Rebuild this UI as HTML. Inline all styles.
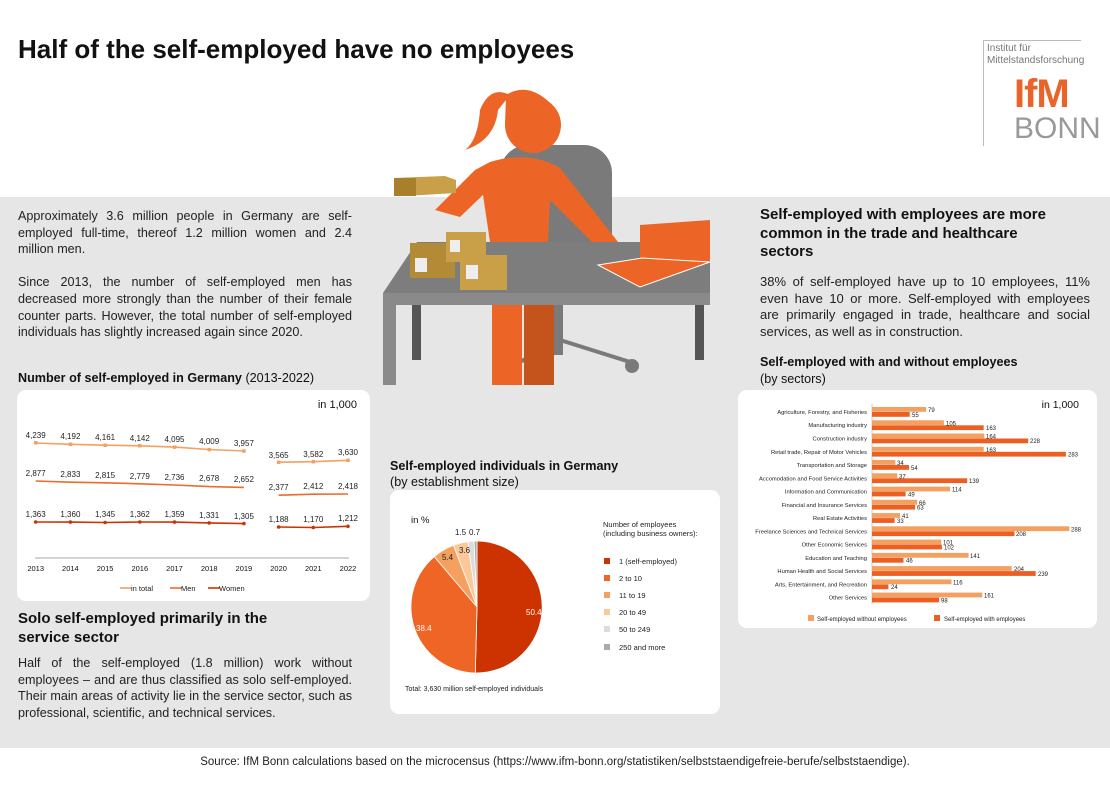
<!DOCTYPE html>
<html><head><meta charset="utf-8"><style>
*{margin:0;padding:0;box-sizing:border-box}
body{width:1110px;height:785px;position:relative;background:#fff;font-family:"Liberation Sans",Arial,sans-serif;color:#111;overflow:hidden}
.band{position:absolute;left:0;top:197px;width:1110px;height:551px;background:#e6e6e6}
.abs{position:absolute}
.p{font-size:12.6px;line-height:16.6px;text-align:justify;color:#222}
.h{font-weight:bold;font-size:15px;line-height:18.5px}
.card{position:absolute;background:#fff;border-radius:9px}
</style></head><body>
<div class="band"></div>
<div class="abs" style="left:18px;top:34px;font-size:26px;font-weight:bold">Half of the self-employed have no employees</div>

<!-- logo -->
<div class="abs" style="left:983px;top:40px;width:98px;height:106px;border-left:1px solid #bbb;border-top:1px solid #bbb"></div>
<div class="abs" style="left:987px;top:43px;font-size:10px;line-height:11.5px;color:#777">Institut für<br>Mittelstandsforschung</div>
<div class="abs" style="left:1014px;top:72px;font-size:40px;font-weight:bold;color:#e8642a;letter-spacing:-1px">IfM</div>
<div class="abs" style="left:1014px;top:112px;font-size:30px;color:#999">BONN</div>

<!-- illustration -->
<svg class="abs" style="left:0;top:0" width="1110" height="400">
<rect x="500" y="145" width="112" height="120" rx="28" fill="#7a7a7a"/>
<line x1="560" y1="340" x2="520" y2="362" stroke="#7a7a7a" stroke-width="4"/>
<line x1="560" y1="340" x2="630" y2="362" stroke="#7a7a7a" stroke-width="4"/>
<circle cx="632" cy="366" r="7" fill="#7a7a7a"/>
<rect x="553" y="305" width="10" height="50" fill="#7a7a7a"/>
<path d="M490 162 Q530 150 560 168 L640 270 L630 280 L550 200 L548 242 L490 242 L483 195 L460 217 L435 210 L475 170 Z" fill="#ec6526"/>
<circle cx="533" cy="125" r="28" fill="#ec6526"/>
<path d="M510 95 Q490 85 480 110 Q478 140 465 150 Q495 140 498 110 Z" fill="#ec6526"/>
<path d="M506 95 Q530 80 555 108 L548 115 Q530 100 505 125 Z" fill="#ec6526"/>
<rect x="492" y="300" width="30" height="85" fill="#ec6526"/>
<rect x="524" y="300" width="30" height="85" fill="#c4541c"/>
<polygon points="417,242 710,242 710,293 383,293" fill="#7d7d7d"/>
<rect x="383" y="293" width="327" height="12" fill="#8a8a8a"/>
<rect x="383" y="305" width="13" height="80" fill="#8a8a8a"/>
<rect x="412" y="305" width="9" height="55" fill="#555"/>
<rect x="695" y="305" width="9" height="55" fill="#555"/>
<polygon points="640,225 710,220 710,262 640,262" fill="#ec6526"/>
<polygon points="598,265 642,258 710,262 640,287" fill="#ec6526" stroke="#fff" stroke-width="1"/>
<polygon points="394,178 445,176 456,180 456,193 405,196 394,192" fill="#c9a047"/>
<rect x="394" y="178" width="22" height="18" fill="#a8802c"/>
<rect x="410" y="243" width="45" height="35" fill="#b38a36"/>
<rect x="446" y="232" width="40" height="30" fill="#c9a047"/>
<rect x="460" y="255" width="47" height="35" fill="#c9a047"/>
<rect x="415" y="258" width="12" height="14" fill="#eee"/>
<rect x="466" y="265" width="12" height="14" fill="#eee"/>
<rect x="450" y="240" width="10" height="12" fill="#eee"/>
</svg>

<div class="abs p" style="left:18px;top:208px;width:334px">Approximately 3.6 million people in Germany are self-employed full-time, thereof 1.2 million women and 2.4 million men.<br><br>Since 2013, the number of self-employed men has decreased more strongly than the number of their female counter parts. However, the total number of self-employed individuals has slightly increased again since 2020.</div>
<div class="abs" style="left:18px;top:371px;font-size:12.6px"><b>Number of self-employed in Germany</b> (2013-2022)</div>

<div class="card" style="left:17px;top:390px;width:353px;height:211px"></div>
<svg class="abs" style="left:0;top:0" width="380" height="610" font-family="Liberation Sans, Arial, sans-serif">
<text x="357" y="408" font-size="11" text-anchor="end" fill="#111">in 1,000</text>
<line x1="35" y1="558" x2="349" y2="558" stroke="#aaa"/>
<g font-size="7.5" fill="#111" text-anchor="middle">
<text x="35.7" y="571">2013</text><text x="70.4" y="571">2014</text><text x="105.1" y="571">2015</text><text x="139.8" y="571">2016</text><text x="174.5" y="571">2017</text><text x="209.2" y="571">2018</text><text x="243.9" y="571">2019</text><text x="278.6" y="571">2020</text><text x="313.3" y="571">2021</text><text x="348" y="571">2022</text>
</g>
<g fill="none" stroke-width="1.6">
<polyline stroke="#f4a060" points="35.7,443 70.4,444.3 105.1,445.2 139.8,445.8 174.5,447.1 209.2,449.5 243.9,451"/>
<polyline stroke="#f4a060" points="278.6,462.2 313.3,461.7 348,460.3"/>
<polyline stroke="#ee6a2a" points="35.7,481 70.4,482.2 105.1,482.8 139.8,483.8 174.5,485 209.2,486.6 243.9,487.4"/>
<polyline stroke="#ee6a2a" points="278.6,495.2 313.3,494.2 348,494"/>
<polyline stroke="#cc3300" points="35.7,522 70.4,522.1 105.1,522.5 139.8,522 174.5,522.1 209.2,522.9 243.9,523.6"/>
<polyline stroke="#cc3300" points="278.6,527 313.3,527.5 348,526.3"/>
</g>
<g fill="#f4a060">
<rect x="34" y="441" width="3.5" height="3.5"/><rect x="68.7" y="442.5" width="3.5" height="3.5"/><rect x="103.4" y="443.5" width="3.5" height="3.5"/><rect x="138" y="444" width="3.5" height="3.5"/><rect x="172.8" y="445.4" width="3.5" height="3.5"/><rect x="207.5" y="447.8" width="3.5" height="3.5"/><rect x="242.2" y="449.3" width="3.5" height="3.5"/><rect x="276.9" y="460.5" width="3.5" height="3.5"/><rect x="311.6" y="460" width="3.5" height="3.5"/><rect x="346.3" y="458.6" width="3.5" height="3.5"/>
</g>
<g fill="#cc3300">
<circle cx="35.7" cy="522" r="1.8"/><circle cx="70.4" cy="522.1" r="1.8"/><circle cx="105.1" cy="522.5" r="1.8"/><circle cx="139.8" cy="522" r="1.8"/><circle cx="174.5" cy="522.1" r="1.8"/><circle cx="209.2" cy="522.9" r="1.8"/><circle cx="243.9" cy="523.6" r="1.8"/><circle cx="278.6" cy="527" r="1.8"/><circle cx="313.3" cy="527.5" r="1.8"/><circle cx="348" cy="526.3" r="1.8"/>
</g>
<g font-size="8" fill="#222" text-anchor="middle">
<text x="35.7" y="438">4,239</text><text x="70.4" y="439">4,192</text><text x="105.1" y="440">4,161</text><text x="139.8" y="441">4,142</text><text x="174.5" y="442">4,095</text><text x="209.2" y="444">4,009</text><text x="243.9" y="446">3,957</text><text x="278.6" y="458">3,565</text><text x="313.3" y="457">3,582</text><text x="348" y="455">3,630</text>
<text x="35.7" y="476">2,877</text><text x="70.4" y="477">2,833</text><text x="105.1" y="478">2,815</text><text x="139.8" y="479">2,779</text><text x="174.5" y="480">2,736</text><text x="209.2" y="481">2,678</text><text x="243.9" y="482">2,652</text><text x="278.6" y="490">2,377</text><text x="313.3" y="489">2,412</text><text x="348" y="489">2,418</text>
<text x="35.7" y="517">1,363</text><text x="70.4" y="517">1,360</text><text x="105.1" y="517">1,345</text><text x="139.8" y="517">1,362</text><text x="174.5" y="517">1,359</text><text x="209.2" y="518">1,331</text><text x="243.9" y="519">1,305</text><text x="278.6" y="522">1,188</text><text x="313.3" y="522">1,170</text><text x="348" y="521">1,212</text>
</g>
<g font-size="7.5" fill="#222">
<line x1="120" y1="588" x2="132" y2="588" stroke="#f4a060" stroke-width="1.6"/><text x="131" y="591">in total</text>
<line x1="170" y1="588" x2="182" y2="588" stroke="#ee6a2a" stroke-width="1.6"/><text x="181" y="591">Men</text>
<line x1="208" y1="588" x2="220" y2="588" stroke="#cc3300" stroke-width="1.6"/><text x="219" y="591">Women</text>
</g>
</svg>

<div class="abs h" style="left:18px;top:610px;width:290px">Solo self-employed primarily in the service sector</div>
<div class="abs p" style="left:18px;top:655px;width:334px">Half of the self-employed (1.8 million) work without employees – and are thus classified as solo self-employed. Their main areas of activity lie in the service sector, such as professional, scientific, and technical services.</div>

<div class="abs" style="left:390px;top:458px;font-size:12.6px;line-height:16px"><b>Self-employed individuals in Germany</b><br>(by establishment size)</div>
<div class="card" style="left:390px;top:490px;width:330px;height:224px"></div>
<svg class="abs" style="left:0;top:0" width="730" height="720" font-family="Liberation Sans, Arial, sans-serif">
<text x="411" y="523" font-size="9.5" fill="#111">in %</text>
<g stroke="#fff" stroke-width="0.8">
<path d="M477,607 L477,541 A66,66 0 1,1 475.3,673 Z" fill="#cc3300"/>
<path d="M477,607 L475.3,673 A66,66 0 0,1 434.3,556.7 Z" fill="#ee6526"/>
<path d="M477,607 L434.3,556.7 A66,66 0 0,1 453.5,545.3 Z" fill="#f3a061"/>
<path d="M477,607 L453.5,545.3 A66,66 0 0,1 467.9,541.6 Z" fill="#fcc898"/>
<path d="M477,607 L467.9,541.6 A66,66 0 0,1 474.1,541.1 Z" fill="#dcdcdc"/>
<path d="M477,607 L474.1,541.1 A66,66 0 0,1 477,541 Z" fill="#aaa"/>
</g>
<g font-size="8">
<text x="526" y="615" fill="#fff">50.4</text>
<text x="416" y="631" fill="#fff">38.4</text>
<text x="442" y="560" fill="#222">5.4</text>
<text x="459" y="553" fill="#222">3.6</text>
<text x="455" y="535" fill="#222">1.5</text>
<text x="469" y="535" fill="#222">0.7</text>
</g>
<g font-size="7.5" fill="#222">
<text x="603" y="527">Number of employees</text>
<text x="603" y="536">(including business owners):</text>
<rect x="604" y="558" width="6" height="6" fill="#cc3300"/><text x="619" y="564">1 (self-employed)</text>
<rect x="604" y="575" width="6" height="6" fill="#ee6526"/><text x="619" y="581">2 to 10</text>
<rect x="604" y="592" width="6" height="6" fill="#f3a061"/><text x="619" y="598">11 to 19</text>
<rect x="604" y="609" width="6" height="6" fill="#fcc898"/><text x="619" y="615">20 to 49</text>
<rect x="604" y="626" width="6" height="6" fill="#dcdcdc"/><text x="619" y="632">50 to 249</text>
<rect x="604" y="644" width="6" height="6" fill="#aaa"/><text x="619" y="650">250 and more</text>
<text x="405" y="691" font-size="7">Total: 3,630 million self-employed individuals</text>
</g>
</svg>

<div class="abs h" style="left:760px;top:206px;width:310px">Self-employed with employees are more common in the trade and healthcare sectors</div>
<div class="abs p" style="left:760px;top:274px;width:330px;font-size:13px">38% of self-employed have up to 10 employees, 11% even have 10 or more. Self-employed with employees are primarily engaged in trade, healthcare and social services, as well as in construction.</div>
<div class="abs" style="left:760px;top:354px;font-size:12.6px;line-height:17px"><b>Self-employed with and without employees</b><br>(by sectors)</div>
<div class="card" style="left:738px;top:390px;width:359px;height:238px"></div>
<svg class="abs" style="left:0;top:0" width="1110" height="640" font-family="Liberation Sans, Arial, sans-serif">
<text x="1079" y="408" font-size="10.5" text-anchor="end" fill="#111">in 1,000</text>
<line x1="872" y1="404" x2="872" y2="604" stroke="#ccc"/>
<g font-size="5.8" fill="#222" text-anchor="end">
<text x="867" y="414">Agriculture, Forestry, and Fisheries</text>
<text x="867" y="427">Manufacturing industry</text>
<text x="867" y="440.5">Construction industry</text>
<text x="867" y="454">Retail trade, Repair of Motor Vehicles</text>
<text x="867" y="467">Transportation and Storage</text>
<text x="867" y="480.5">Accomodation and Food Service Activities</text>
<text x="867" y="493.5">Information and Communication</text>
<text x="867" y="507">Financial and Insurance Services</text>
<text x="867" y="520">Real Estate Activities</text>
<text x="867" y="533.5">Freelance Sciences and Technical Services</text>
<text x="867" y="546.5">Other Economic Services</text>
<text x="867" y="560">Education and Teaching</text>
<text x="867" y="573">Human Health and Social Services</text>
<text x="867" y="586.5">Arts, Entertainment, and Recreation</text>
<text x="867" y="599.5">Other Services</text>
</g>
<g fill="#f3a061">
<rect x="872" y="407" width="54.1" height="4.8"/><rect x="872" y="420.3" width="71.9" height="4.8"/><rect x="872" y="433.5" width="112.3" height="4.8"/><rect x="872" y="446.8" width="111.7" height="4.8"/><rect x="872" y="460" width="23.3" height="4.8"/><rect x="872" y="473.3" width="25.3" height="4.8"/><rect x="872" y="486.6" width="78.1" height="4.8"/><rect x="872" y="499.8" width="45.2" height="4.8"/><rect x="872" y="513.1" width="28.1" height="4.8"/><rect x="872" y="526.3" width="197.3" height="4.8"/><rect x="872" y="539.6" width="69.2" height="4.8"/><rect x="872" y="552.9" width="96.6" height="4.8"/><rect x="872" y="566.1" width="139.7" height="4.8"/><rect x="872" y="579.4" width="79.5" height="4.8"/><rect x="872" y="592.6" width="110.3" height="4.8"/>
</g>
<g fill="#ec5f22">
<rect x="872" y="412" width="37.7" height="4.8"/><rect x="872" y="425.3" width="111.7" height="4.8"/><rect x="872" y="438.5" width="156.2" height="4.8"/><rect x="872" y="451.8" width="193.9" height="4.8"/><rect x="872" y="465" width="37" height="4.8"/><rect x="872" y="478.3" width="95.2" height="4.8"/><rect x="872" y="491.6" width="33.6" height="4.8"/><rect x="872" y="504.8" width="43.2" height="4.8"/><rect x="872" y="518.1" width="22.6" height="4.8"/><rect x="872" y="531.3" width="142.5" height="4.8"/><rect x="872" y="544.6" width="69.9" height="4.8"/><rect x="872" y="557.9" width="31.5" height="4.8"/><rect x="872" y="571.1" width="163.7" height="4.8"/><rect x="872" y="584.4" width="16.4" height="4.8"/><rect x="872" y="597.6" width="67.1" height="4.8"/>
</g>
<g font-size="6" fill="#222">
<text x="928" y="412">79</text><text x="946" y="425.3">105</text><text x="986" y="438.5">164</text><text x="986" y="451.8">163</text><text x="897" y="465">34</text><text x="899" y="478.3">37</text><text x="952" y="491.6">114</text><text x="919" y="504.8">66</text><text x="902" y="518.1">41</text><text x="1071" y="531.3">288</text><text x="943" y="544.6">101</text><text x="970" y="557.9">141</text><text x="1014" y="571.1">204</text><text x="953" y="584.4">116</text><text x="984" y="597.6">161</text>
<text x="912" y="417">55</text><text x="986" y="430">163</text><text x="1030" y="443">228</text><text x="1068" y="456.5">283</text><text x="911" y="470">54</text><text x="969" y="483">139</text><text x="908" y="496.5">49</text><text x="917" y="509.5">63</text><text x="897" y="523">33</text><text x="1016" y="536">208</text><text x="944" y="549.5">102</text><text x="906" y="562.5">46</text><text x="1038" y="576">239</text><text x="891" y="589">24</text><text x="941" y="602.5">98</text>
</g>
<rect x="808" y="615" width="6" height="6" fill="#f3a061"/><text x="817" y="621" font-size="6" fill="#222">Self-employed without employees</text>
<rect x="934" y="615" width="6" height="6" fill="#ec5f22"/><text x="944" y="621" font-size="6" fill="#222">Self-employed with employees</text>
</svg>

<div class="abs" style="left:0;top:756px;width:1110px;text-align:center;font-size:11.5px;color:#222">Source: IfM Bonn calculations based on the microcensus (https://www.ifm-bonn.org/statistiken/selbststaendigefreie-berufe/selbststaendige).</div>
</body></html>
